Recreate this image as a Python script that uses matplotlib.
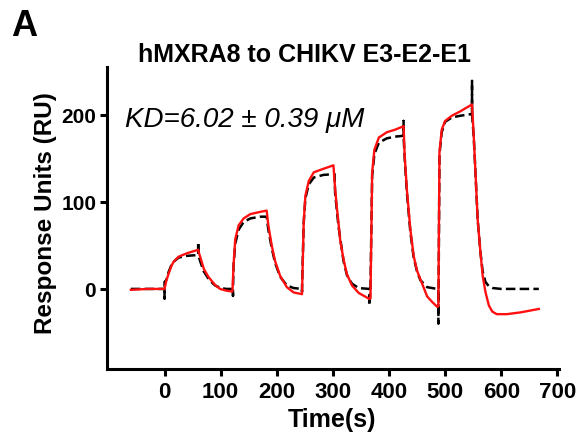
import matplotlib
matplotlib.use("Agg")
import matplotlib.pyplot as plt

plt.rcParams['font.family'] = ['Liberation Sans', 'DejaVu Sans']

# ---- data ----
red_t = [-60, -30, 0, 3, 7, 12, 16, 25, 40, 50, 60,
         61, 64, 70, 78, 90, 99, 110, 121,
         123, 126, 132, 141, 153, 171, 182,
         185, 191, 197, 206, 218, 230, 245,
         248, 251, 257, 266, 283, 301,
         304, 307, 310, 313, 319, 325, 334, 346, 365,
         367, 370, 374, 382, 396, 411, 426,
         428, 432, 438, 444, 450, 456, 468, 477, 486,
         488, 490, 494, 500, 512, 527, 548,
         551, 554, 558, 563, 567, 572, 578, 584, 592, 610, 634, 667]
red_y = [-1, 0, 0, 9, 17, 26, 31, 37, 41, 43, 45,
         42, 36, 23, 14, 4.6, 0, -2, -3,
         27, 57, 73, 81, 86, 88.6, 90,
         73, 50, 32, 15, 2, -4, -6,
         76, 107, 124, 134, 138, 142,
         115, 94, 76, 56, 34, 17, 4, -4.6, -11.5,
         -11, 134, 160, 174, 180, 183, 187,
         153, 113, 69, 38, 21, 11, -8.6, -15, -20.6,
         -20, 157, 183, 193, 199, 204, 212,
         176, 136, 80, 42, 15, -3.7, -19, -26, -29, -29, -27, -23]

fit_t = [-60, 0, 0, 0, 3, 7, 12, 16, 25, 40, 60, 60, 60,
         65, 70, 80, 90, 100, 110, 122, 122, 122,
         123, 126, 132, 141, 153, 170, 182,
         185, 191, 197, 206, 218, 230, 245, 245, 245,
         248, 251, 257, 266, 283, 303,
         304, 310, 319, 325, 334, 346, 365, 365, 367,
         370, 374, 382, 396, 411, 426, 426, 426,
         428, 432, 438, 444, 450, 456, 468, 486, 488, 488,
         490, 494, 500, 512, 527, 548, 548, 548,
         551, 554, 558, 563, 567, 572, 578, 585, 600, 667]
fit_y = [0, 0, -11, 8, 10, 19, 27, 31, 36, 38, 39, 54, 39,
         29, 20, 10, 4, 1, 0, 0, -8, 0,
         27, 52, 68, 77, 81, 83, 83,
         68, 47, 30, 14, 4, 1, 0, -3, 0,
         76, 104, 120, 128, 131, 132,
         110, 72, 32, 16, 6, 1, 0, -19, 0,
         130, 155, 168, 173, 175, 176, 193, 176,
         150, 110, 66, 36, 20, 10, 2, 0, 0, -40,
         155, 180, 192, 197, 199, 201, 239, 201,
         175, 135, 80, 42, 20, 8, 3, 1, 0, 0]

x_ticks = [0, 100, 200, 300, 400, 500, 600, 700]
y_ticks = [0, 100, 200]

title = "hMXRA8 to CHIKV E3-E2-E1"
kd_text = "KD=6.02 \u00b1 0.39 \u03bcM"

# ---- figure ----
fig = plt.figure(figsize=(5.8, 4.39), dpi=100)
ax = fig.add_axes([0.185, 0.1572, 0.9638 - 0.185, 0.8451 - 0.1572])

ax.plot(fit_t, fit_y, color='black', lw=1.8, ls=(0, (3.8, 1.7)), zorder=2)
ax.plot(red_t, red_y, color='#ff1010', lw=1.7, zorder=3)

ax.set_xlim(-102, 703)
ax.set_ylim(-92, 255)
ax.set_xticks(x_ticks)
ax.set_yticks(y_ticks)

for s in ['top', 'right']:
    ax.spines[s].set_visible(False)
for s in ['left', 'bottom']:
    ax.spines[s].set_linewidth(2.2)
ax.tick_params(axis='both', direction='out', length=5, width=2.2)
ax.tick_params(axis='x', pad=3.3, labelsize=16)
ax.tick_params(axis='y', pad=3, labelsize=15)
for lab in ax.get_xticklabels() + ax.get_yticklabels():
    lab.set_fontweight('bold')

fig.text(46 / 580, 1 - 213.5 / 439, "Response Units (RU)", rotation=90,
         ha='center', va='center', fontsize=17.5, fontweight='bold')
fig.text(332.5 / 580, 1 - 420 / 439, "Time(s)", ha='center', va='center',
         fontsize=18, fontweight='bold')
fig.text(304 / 580, 1 - 55 / 439, title, ha='center', va='center',
         fontsize=18, fontweight='bold')
fig.text(11 / 580, 1 - 36 / 439, "A", ha='left', va='baseline',
         fontsize=26, fontweight='bold')
fig.text(125 / 580, 1 - 127 / 439, kd_text, ha='left', va='baseline',
         fontsize=20, fontstyle='italic')

fig.savefig("out.png", dpi=100)
